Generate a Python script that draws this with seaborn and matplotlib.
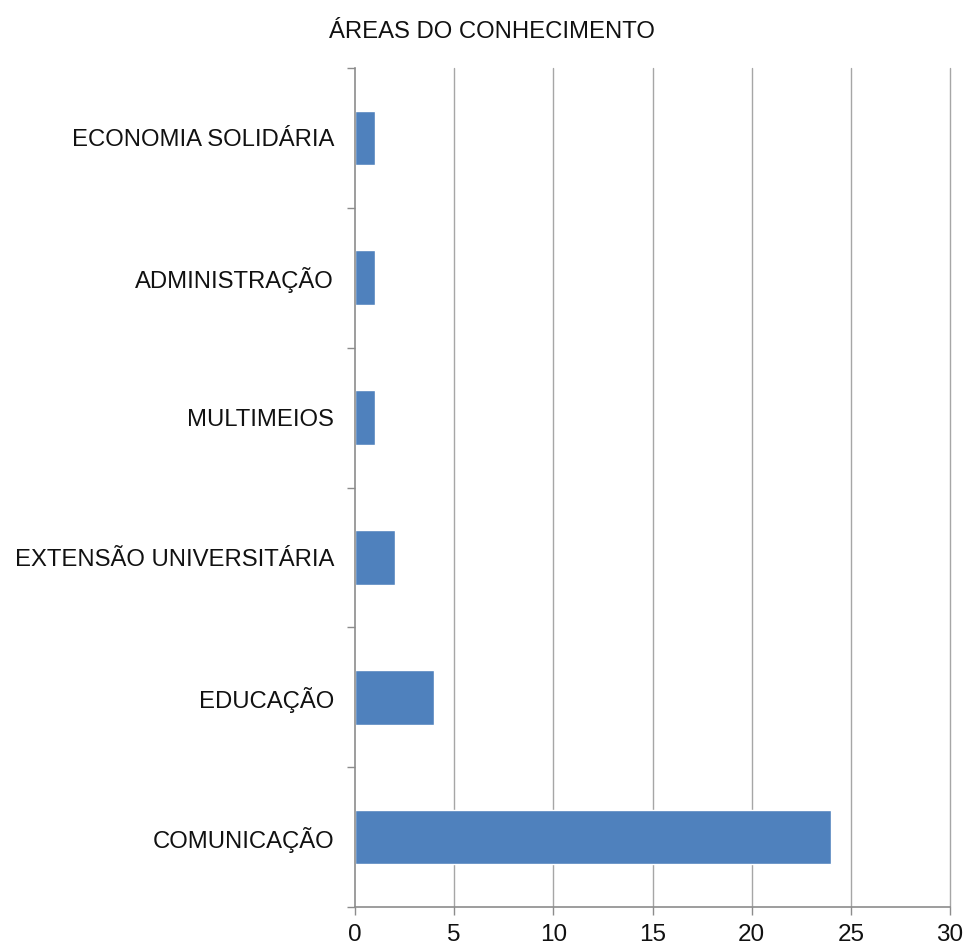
import matplotlib
matplotlib.use("Agg")
import matplotlib.pyplot as plt
import seaborn as sns
import pandas as pd
import numpy as np

categories = ["ECONOMIA SOLIDÁRIA", "ADMINISTRAÇÃO", "MULTIMEIOS",
              "EXTENSÃO UNIVERSITÁRIA", "EDUCAÇÃO", "COMUNICAÇÃO"]
values = [1, 1, 1, 2, 4, 24]
x_ticks = [0, 5, 10, 15, 20, 25, 30]
title = "ÁREAS DO CONHECIMENTO"

df = pd.DataFrame({"area": categories, "qtd": values})

sns.set_theme(style="white")
plt.rcParams["font.family"] = ["Liberation Sans", "DejaVu Sans"]

fig = plt.figure(figsize=(9.71, 9.5), dpi=100)
ax = fig.add_axes([355 / 971, 1 - 907 / 950, 595 / 971, 839 / 950])

sns.barplot(data=df, x="qtd", y="area", order=categories, color="#4F81BD",
            saturation=1, width=0.39, ax=ax, orient="h")

ax.set_xlim(0, 30)
ax.set_ylim(len(categories) - 0.5, -0.5)
ax.set_xticks(x_ticks)
ax.set_xticklabels([str(t) for t in x_ticks], fontsize=17.5, color="#111111")
ax.set_yticks(range(len(categories)))
ax.set_yticklabels(categories, fontsize=17.2, color="#111111")
ax.set_yticks(np.arange(-0.5, len(categories), 1), minor=True)
ax.tick_params(axis="y", which="major", length=0, pad=15)
ax.tick_params(axis="y", which="minor", length=6, width=1, color="#8C8C8C", direction="out", left=True)
ax.tick_params(axis="x", which="major", length=6, width=1, color="#8C8C8C", direction="out", bottom=True, pad=6)

for t in x_ticks[1:]:
    ax.axvline(t, color="#A6A6A6", lw=1, zorder=0, clip_on=False)

ax.set_xlabel("")
ax.set_ylabel("")
for side in ["top", "right"]:
    ax.spines[side].set_visible(False)
for side in ["left", "bottom"]:
    ax.spines[side].set_color("#8C8C8C")
    ax.spines[side].set_linewidth(1.2)

fig.text(492 / 971, 1 - 32 / 950, title, ha="center", va="center", fontsize=17.2, color="#111111")

fig.savefig("out.png", dpi=100, facecolor="white")
